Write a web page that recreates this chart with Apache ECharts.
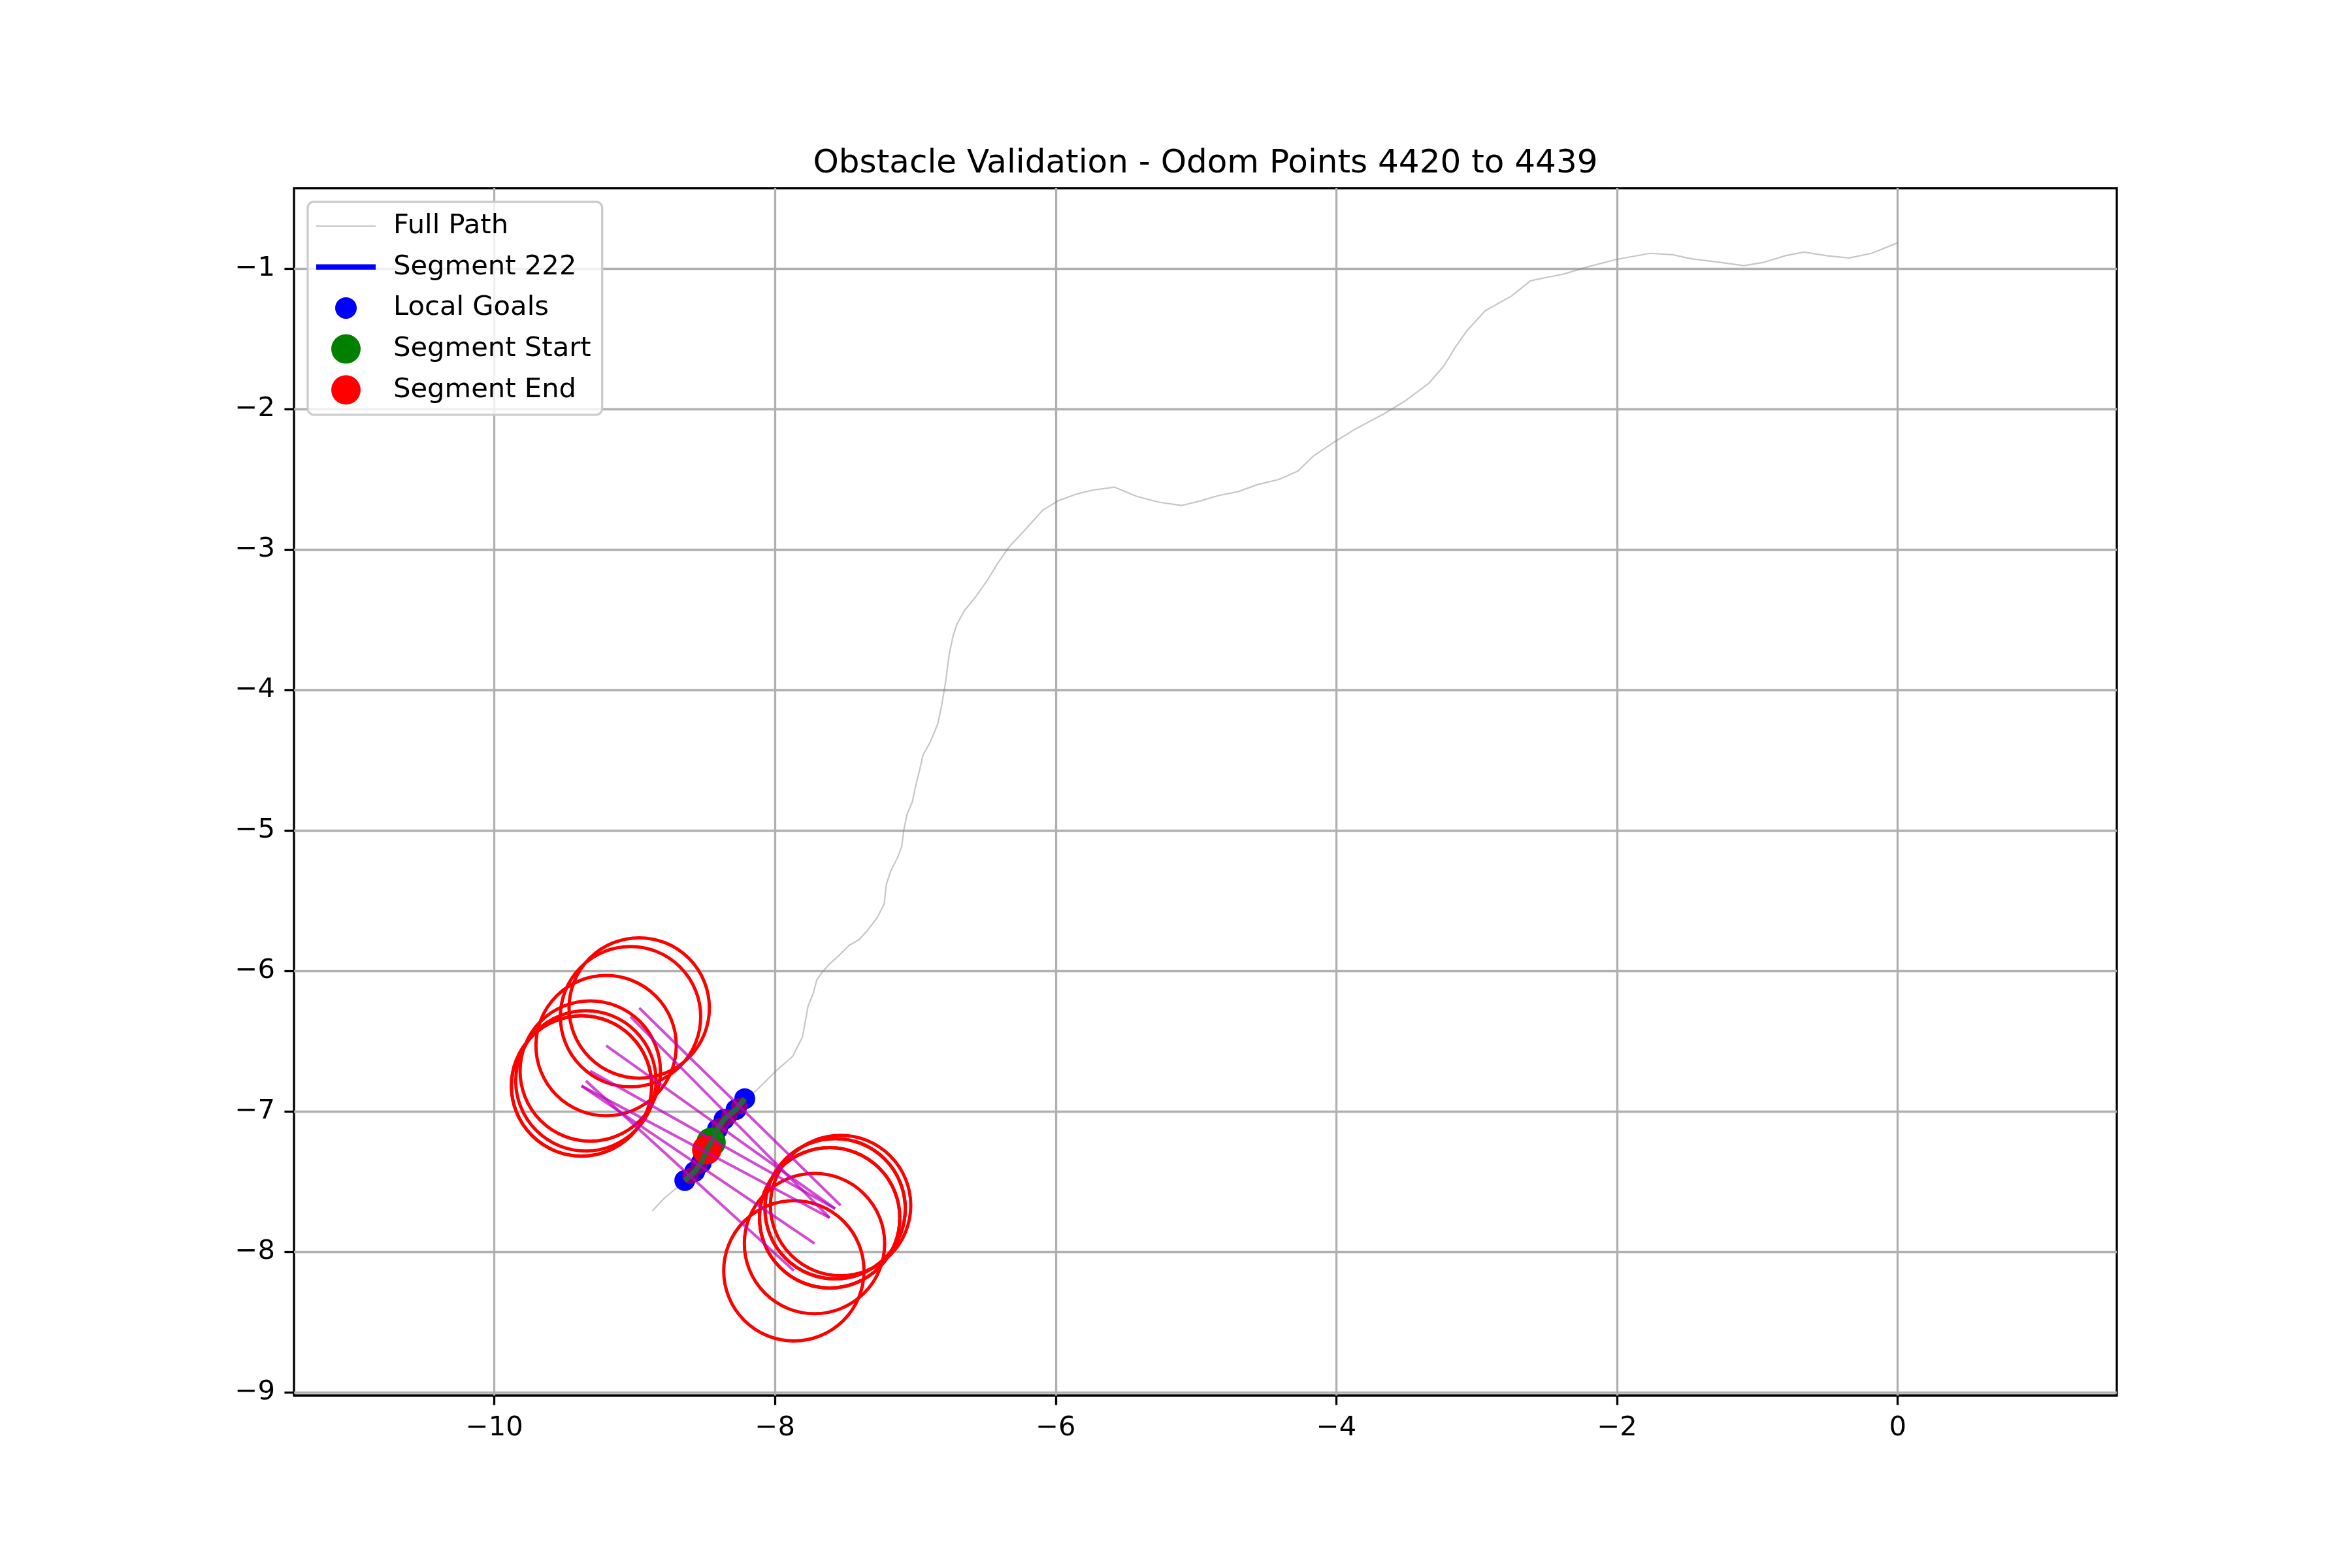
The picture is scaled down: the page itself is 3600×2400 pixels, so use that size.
<!DOCTYPE html>
<html>
<head>
<meta charset="utf-8">
<script src="https://cdn.jsdelivr.net/npm/echarts@6/dist/echarts.min.js"></script>
<style>
html,body{margin:0;padding:0;background:#fff;}
#chart{width:3600px;height:2400px;}
</style>
</head>
<body>
<div id="chart"></div>
<script>
// ---- data ----
const pathX = [-8.875,-8.786,-8.692,-8.643,-8.600,-8.530,-8.470,-8.420,-8.350,-8.280,-8.216,-8.138,-8.006,-7.874,-7.804,-7.765,-7.727,-7.703,-7.665,-7.610,-7.533,-7.471,-7.401,-7.339,-7.269,-7.222,-7.207,-7.176,-7.129,-7.098,-7.083,-7.060,-7.021,-7.000,-6.972,-6.946,-6.892,-6.839,-6.812,-6.785,-6.759,-6.732,-6.705,-6.652,-6.572,-6.491,-6.411,-6.331,-6.224,-6.091,-5.984,-5.850,-5.744,-5.583,-5.423,-5.263,-5.103,-4.969,-4.835,-4.702,-4.568,-4.408,-4.274,-4.168,-4.007,-3.874,-3.660,-3.500,-3.340,-3.233,-3.153,-3.073,-2.939,-2.752,-2.618,-2.512,-2.378,-2.218,-2.004,-1.764,-1.604,-1.470,-1.256,-1.096,-0.962,-0.801,-0.668,-0.507,-0.347,-0.187,0.000];
const pathY = [-7.709,-7.615,-7.538,-7.492,-7.440,-7.360,-7.260,-7.150,-7.050,-6.980,-6.910,-6.856,-6.724,-6.608,-6.468,-6.251,-6.158,-6.065,-6.011,-5.949,-5.879,-5.817,-5.778,-5.709,-5.616,-5.522,-5.383,-5.290,-5.197,-5.119,-5.000,-4.887,-4.794,-4.690,-4.579,-4.465,-4.367,-4.237,-4.106,-3.943,-3.747,-3.617,-3.535,-3.437,-3.339,-3.225,-3.095,-2.980,-2.866,-2.719,-2.654,-2.605,-2.579,-2.556,-2.622,-2.664,-2.687,-2.654,-2.615,-2.589,-2.540,-2.501,-2.442,-2.338,-2.230,-2.148,-2.034,-1.936,-1.816,-1.692,-1.561,-1.447,-1.300,-1.196,-1.088,-1.065,-1.039,-0.990,-0.935,-0.892,-0.902,-0.931,-0.958,-0.980,-0.958,-0.909,-0.883,-0.909,-0.925,-0.892,-0.817];

const goalX = [-8.216,-8.278,-8.363,-8.410,-8.456,-8.487,-8.526,-8.573,-8.643];
const goalY = [-6.910,-6.987,-7.057,-7.127,-7.220,-7.274,-7.367,-7.429,-7.492];

const odomX = [-8.255,-8.328,-8.394,-8.449,-8.545,-8.603];
const odomY = [-6.964,-7.039,-7.104,-7.173,-7.391,-7.460];

const startX = [-8.456], startY = [-7.220];
const endX = [-8.487], endY = [-7.274];

const leftX  = [-8.968,-9.030,-9.204,-9.317,-9.379,-9.379,-9.348];
const leftY  = [-6.264,-6.326,-6.532,-6.713,-6.819,-6.819,-6.783];
const rightX = [-7.533,-7.611,-7.572,-7.572,-7.611,-7.719,-7.866];
const rightY = [-7.670,-7.758,-7.693,-7.693,-7.758,-7.941,-8.135];
const circleRadius = [0.5,0.5,0.5,0.5,0.5,0.5,0.5];

const xTicks = [-10,-8,-6,-4,-2,0];
const yTicks = [-9,-8,-7,-6,-5,-4,-3,-2,-1];
const titleText = 'Obstacle Validation - Odom Points 4420 to 4439';
const legendNames = ['Full Path','Segment 222','Local Goals','Segment Start','Segment End'];

// ---- build ----
const zip = (a,b) => a.map((v,i)=>[v,b[i]]);
const fmt = v => (v < 0 ? '\u2212' + Math.abs(v) : String(v));
const FONT = 'DejaVu Sans';

const circles = [];
for (let i = 0; i < leftX.length; i++) {
  circles.push([leftX[i], leftY[i], circleRadius[i]]);
  circles.push([rightX[i], rightY[i], circleRadius[i]]);
}
const rays = leftX.map((v,i)=>({coords:[[leftX[i],leftY[i]],[rightX[i],rightY[i]]]}));

const chart = echarts.init(document.getElementById('chart'), null, {renderer:'canvas'});
chart.setOption({
  animation:false,
  backgroundColor:'#ffffff',
  textStyle:{fontFamily:FONT},
  title:{
    text:titleText, left:1845, top:223, textAlign:'center',
    padding:0,
    textStyle:{fontFamily:FONT,fontSize:50,fontWeight:'normal',color:'#000',lineHeight:56}
  },
  legend:{
    orient:'vertical', left:471, top:309,
    padding:[13,17,14,13],
    itemGap:14.7, itemWidth:91, itemHeight:48,
    backgroundColor:'rgba(255,255,255,0.8)',
    borderColor:'#cccccc', borderWidth:3.3, borderRadius:9,
    textStyle:{fontFamily:FONT,fontSize:41.7,color:'#000',lineHeight:48,padding:[0,0,0,22]},
    data:[
      {name:legendNames[0], icon:'path://M0,0L91,0L91,2.2L0,2.2Z', itemStyle:{color:'rgba(128,128,128,0.45)'}},
      {name:legendNames[1], icon:'path://M0,0L91,0L91,8.3L0,8.3Z', itemStyle:{color:'#0000ff'}},
      {name:legendNames[2], icon:'path://M0,0M48,48M7.5,24a16.5,16.5 0 1,0 33,0a16.5,16.5 0 1,0 -33,0z'},
      {name:legendNames[3], icon:'path://M0,0M48,48M1.5,24a22.5,22.5 0 1,0 45,0a22.5,22.5 0 1,0 -45,0z'},
      {name:legendNames[4], icon:'path://M0,0M48,48M1.5,24a22.5,22.5 0 1,0 45,0a22.5,22.5 0 1,0 -45,0z'}
    ]
  },
  grid:{left:450,right:360,top:288,bottom:264,show:true,borderColor:'#000',borderWidth:3.3,backgroundColor:'transparent'},
  xAxis:{
    type:'value', min:-11.428, max:1.561,
    axisLine:{show:false,onZero:false},
    axisTick:{show:true,inside:false,length:14.6,lineStyle:{color:'#000',width:3.3},customValues:xTicks},
    axisLabel:{customValues:xTicks,formatter:fmt,fontFamily:FONT,fontSize:41.7,color:'#000',margin:29},
    splitLine:{show:true,lineStyle:{color:'#b0b0b0',width:3.3}}
  },
  yAxis:{
    type:'value', min:-9.023, max:-0.428,
    axisLine:{show:false,onZero:false},
    axisTick:{show:true,inside:false,length:14.6,lineStyle:{color:'#000',width:3.3},customValues:yTicks},
    axisLabel:{customValues:yTicks,formatter:fmt,fontFamily:FONT,fontSize:41.7,color:'#000',margin:29},
    splitLine:{show:true,lineStyle:{color:'#b0b0b0',width:3.3}}
  },
  series:[
    {name:legendNames[0], type:'line', data:zip(pathX,pathY), symbol:'none', z:2,
     lineStyle:{color:'rgba(128,128,128,0.45)',width:2.2}, itemStyle:{color:'rgba(128,128,128,0.45)'}},
    {name:legendNames[1], type:'line', data:zip(goalX,goalY), symbol:'none', z:3,
     lineStyle:{color:'#0000ff',width:8.3}, itemStyle:{color:'#0000ff'}},
    {name:legendNames[2], type:'scatter', data:zip(goalX,goalY), symbol:'circle', symbolSize:32, z:4,
     itemStyle:{color:'#0000ff',opacity:1}},
    {name:'odom', type:'scatter', data:zip(odomX,odomY), symbol:'circle', symbolSize:25, z:5,
     itemStyle:{color:'#800080',opacity:1}},
    {name:legendNames[3], type:'scatter', data:zip(startX,startY), symbol:'circle', symbolSize:45, z:6,
     itemStyle:{color:'#008000',opacity:1}},
    {name:legendNames[4], type:'scatter', data:zip(endX,endY), symbol:'circle', symbolSize:45, z:7,
     itemStyle:{color:'#ff0000',opacity:1}},
    {name:'segment-track', type:'line', data:zip(goalX,goalY), symbol:'none', z:8,
     lineStyle:{color:'#1f6b3a',width:8.3,opacity:0.9}},
    {name:'clearance', type:'custom', coordinateSystem:'cartesian2d', z:9, data:circles,
     encode:{x:0,y:1},
     renderItem:function(params, api){
       const c = api.coord([api.value(0), api.value(1)]);
       const s = api.size([api.value(2), api.value(2)]);
       return {type:'circle', shape:{cx:c[0],cy:c[1],r:s[0]}, style:{fill:null,stroke:'#ff0000',lineWidth:5}};
     }},
    {name:'rays', type:'lines', coordinateSystem:'cartesian2d', z:10, data:rays,
     lineStyle:{color:'#bf00bf',width:4.2,opacity:0.7}}
  ]
});
</script>
</body>
</html>
